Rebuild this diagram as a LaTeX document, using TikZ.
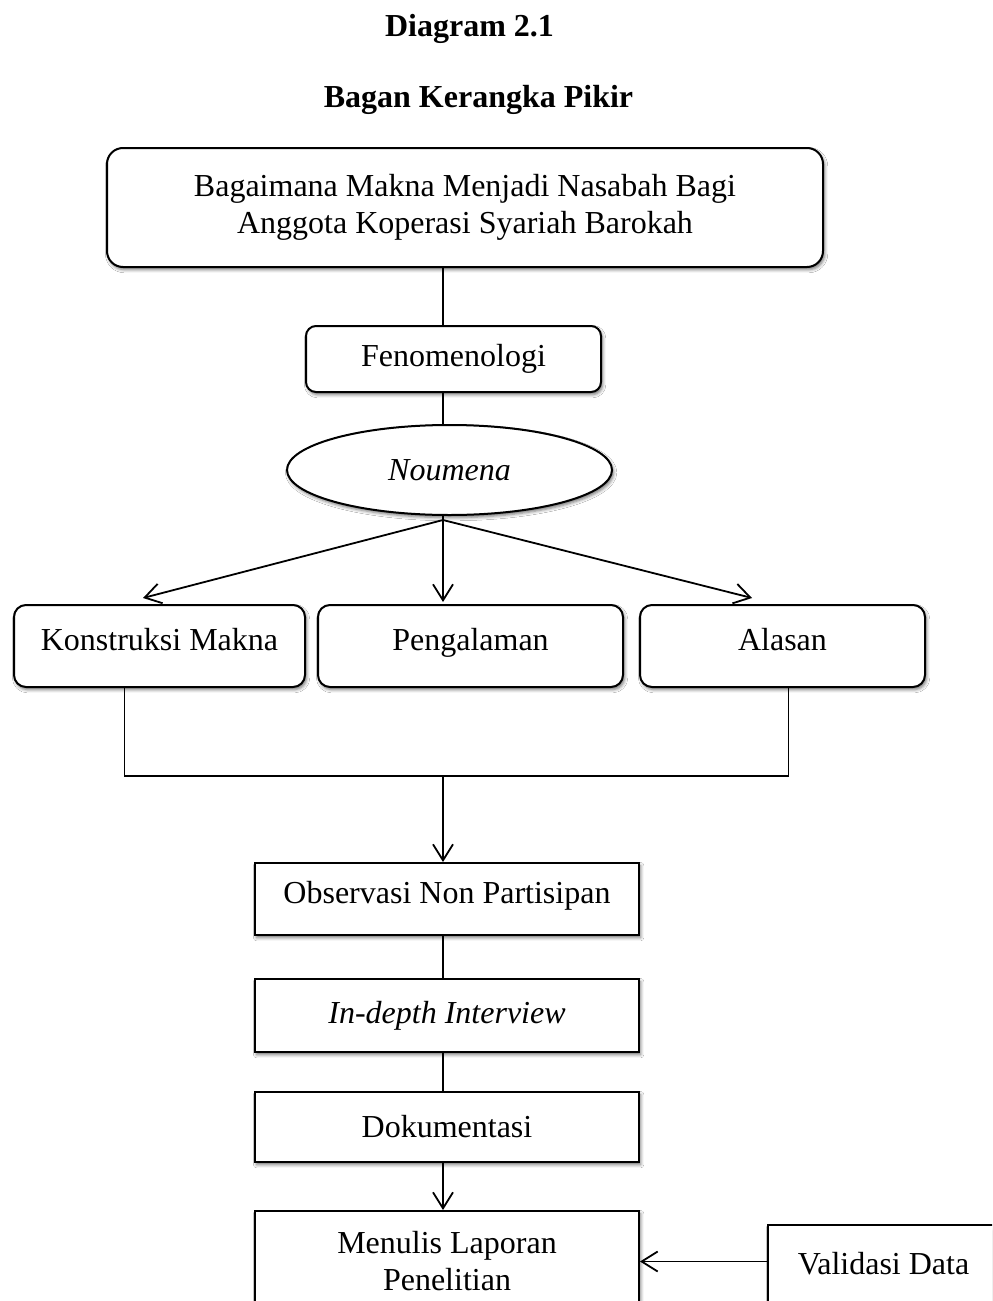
\documentclass[tikz,border=0pt]{standalone}
\usepackage{fontspec}
\setmainfont{Liberation Serif}
\usetikzlibrary{arrows.meta,shapes.geometric,shadows.blur,calc}

\begin{document}
\begin{tikzpicture}[x=0.5pt,y=-0.5pt,
  font=\fontsize{16pt}{18.5pt}\selectfont,
  softshadow/.style={blur shadow={shadow xshift=0.8pt,shadow yshift=-1.3pt,shadow blur radius=1.6pt,shadow opacity=55}},
  rbox/.style={draw,line width=1pt,rounded corners=6pt,fill=white,softshadow,inner sep=0pt,align=center},
  sbox/.style={draw,line width=1pt,fill=white,softshadow,inner sep=0pt,align=center},
  lifted/.style={text height=11pt,text depth=6.2pt},
  link/.style={line width=0.9pt},
  arr/.style={line width=0.9pt,-{Straight Barb[length=8pt,width=10pt]}},
  headline/.style={font=\fontsize{16pt}{18.5pt}\selectfont\bfseries,anchor=base,inner sep=0pt}
]
\useasboundingbox (0,0) rectangle (992,1301);
\clip (0,0) rectangle (992,1301);
\fill[white] (0,0) rectangle (992,1301);

% headings
\node[headline] (t1) at (469.5,36) {Diagram 2.1};
\node[headline] (t2) at (478.5,107) {Bagan Kerangka Pikir};

% upper part of the chart
\node[rbox,rounded corners=8pt,minimum width=358pt,minimum height=59.5pt] (top) at (465,207.5)
  {Bagaimana Makna Menjadi Nasabah Bagi\\Anggota Koperasi Syariah Barokah};
\node[rbox,rounded corners=5pt,minimum width=147.5pt,minimum height=33pt] (fen) at (453.5,359) {Fenomenologi};
\node[draw,ellipse,line width=1pt,fill=white,softshadow,inner sep=0pt,
  minimum width=162.5pt,minimum height=45pt,font=\fontsize{16pt}{18.5pt}\selectfont\itshape] (nou) at (449.5,470) {Noumena};

\node[rbox,lifted,minimum width=145.5pt,minimum height=41pt] (kon) at (159.5,646) {Konstruksi Makna};
\node[rbox,lifted,minimum width=152.5pt,minimum height=41pt] (pen) at (470.5,646) {Pengalaman};
\node[rbox,lifted,minimum width=142.5pt,minimum height=41pt] (ala) at (782.5,646) {Alasan};

% lower part of the chart
\node[sbox,lifted,minimum width=192pt,minimum height=36pt] (obs) at (447,899) {Observasi Non Partisipan};
\node[sbox,minimum width=192pt,minimum height=36.5pt,font=\fontsize{16pt}{18.5pt}\selectfont\itshape] (ind) at (447,1015.5) {In-depth Interview};
\node[sbox,minimum width=192pt,minimum height=35pt] (dok) at (447,1127) {Dokumentasi};
\node[sbox,minimum width=192pt,minimum height=50.5pt] (menu) at (447,1261.5) {Menulis Laporan\\Penelitian};
\node[sbox,text height=11pt,text depth=5pt,minimum width=115.5pt,minimum height=43.5pt] (val) at (883.5,1268.5) {Validasi Data};

% helper points for the connectors
\coordinate (spine) at (443,0);
\coordinate (fork) at (443,520);
\coordinate (jl) at (124.5,776);
\coordinate (jr) at (788.5,776);

% connectors
\draw[link] (top.south -| spine) -- (fen.north -| spine);
\draw[link] (fen.south -| spine) -- (nou.north -| spine);
\draw[link] (nou.south -| spine) -- (fork);
\draw[arr] (fork) -- ($(kon.north)+(-16.5,-6)$);
\draw[arr] (fork) -- ($(pen.north -| spine)+(0,-2)$);
\draw[arr] (fork) -- ($(ala.north)+(-30.5,-6)$);
\draw[link] (kon.south -| jl) -- (jl) -- (jr) -- (ala.south -| jr);
\draw[arr] (jl -| spine) -- (obs.north -| spine);
\draw[link] (obs.south -| spine) -- (ind.north -| spine);
\draw[link] (ind.south -| spine) -- (dok.north -| spine);
\draw[arr] (dok.south -| spine) -- (menu.north -| spine);
\draw[arr] (val.west |- menu.east) -- (menu.east);
\end{tikzpicture}
\end{document}
